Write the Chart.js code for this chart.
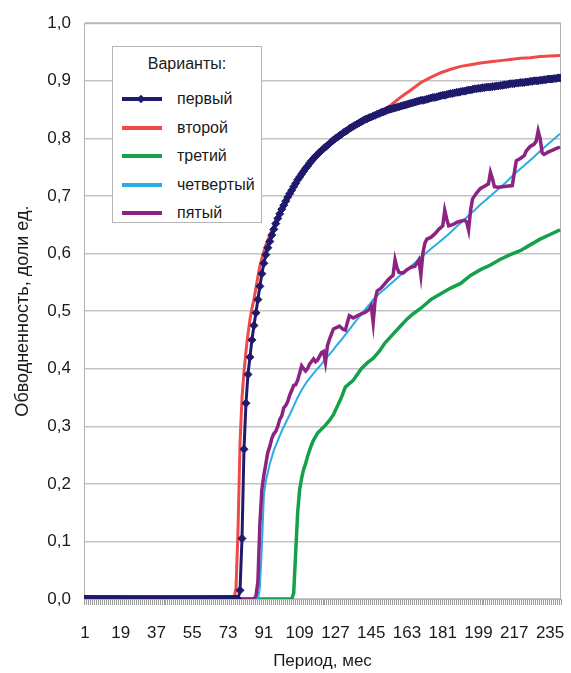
<!DOCTYPE html>
<html lang="ru">
<head>
<meta charset="utf-8">
<title>Обводненность по вариантам</title>
<script src="https://cdn.jsdelivr.net/npm/chart.js@4/dist/chart.umd.min.js"></script>
<style>
  html, body { margin: 0; padding: 0; background: #fff; }
  #wrap { position: relative; width: 571px; height: 673px; }
  #legend {
    position: absolute; left: 112px; top: 46px; width: 150px; height: 177px;
    box-sizing: border-box; border: 1px solid #b4b4b4; background: #fff;
    font-family: "Liberation Sans", Arial, sans-serif; font-size: 16px; color: #1a1a1a;
  }
  #legend .title { position: absolute; left: 0; width: 100%; top: 8px; text-align: center; }
  #legend .row { position: absolute; left: 0; width: 100%; height: 20px; line-height: 20px; }
  #legend .sample { position: absolute; left: 9px; top: 8px; width: 40px; height: 4px; }
  #legend .mark { position: absolute; left: 25px; top: 7px; width: 6px; height: 6px; transform: rotate(45deg); }
  #legend .label { position: absolute; left: 64px; top: 0; white-space: nowrap; }
</style>
</head>
<body>
<div id="wrap">
  <canvas id="chart" width="571" height="673"></canvas>
  <div id="legend"></div>
</div>
<script>
// months on the category axis and the labelled ticks
const months = Array.from({ length: 240 }, (_, i) => i + 1);
const tickMonths = [1, 19, 37, 55, 73, 91, 109, 127, 145, 163, 181, 199, 217, 235];
const seriesNames = ["первый", "второй", "третий", "четвертый", "пятый"];

// первый: a value for every month (drawn with markers)
const variant1 = [
  0, 0, 0, 0, 0, 0, 0, 0, 0, 0,
  0, 0, 0, 0, 0, 0, 0, 0, 0, 0,
  0, 0, 0, 0, 0, 0, 0, 0, 0, 0,
  0, 0, 0, 0, 0, 0, 0, 0, 0, 0,
  0, 0, 0, 0, 0, 0, 0, 0, 0, 0,
  0, 0, 0, 0, 0, 0, 0, 0, 0, 0,
  0, 0, 0, 0, 0, 0, 0, 0, 0, 0,
  0, 0, 0, 0, 0, 0, 0, 0, 0.015, 0.105,
  0.26, 0.34, 0.39, 0.42, 0.45, 0.475, 0.497, 0.52, 0.543, 0.565,
  0.583, 0.598, 0.61, 0.621, 0.632, 0.642, 0.652, 0.661, 0.669, 0.677,
  0.684, 0.691, 0.698, 0.704, 0.71, 0.716, 0.722, 0.728, 0.733, 0.738,
  0.743, 0.748, 0.752, 0.757, 0.761, 0.765, 0.769, 0.772, 0.776, 0.779,
  0.782, 0.785, 0.788, 0.791, 0.794, 0.797, 0.800, 0.802, 0.805, 0.807,
  0.810, 0.812, 0.814, 0.817, 0.819, 0.821, 0.823, 0.825, 0.827, 0.829,
  0.831, 0.833, 0.834, 0.836, 0.837, 0.839, 0.840, 0.842, 0.843, 0.845,
  0.846, 0.847, 0.849, 0.850, 0.851, 0.852, 0.853, 0.854, 0.855, 0.856,
  0.857, 0.858, 0.859, 0.860, 0.861, 0.862, 0.863, 0.864, 0.865, 0.866,
  0.866, 0.867, 0.868, 0.869, 0.870, 0.871, 0.871, 0.872, 0.873, 0.874,
  0.875, 0.875, 0.876, 0.877, 0.878, 0.878, 0.879, 0.880, 0.880, 0.881,
  0.882, 0.882, 0.883, 0.884, 0.884, 0.885, 0.886, 0.886, 0.887, 0.887,
  0.888, 0.888, 0.889, 0.889, 0.889, 0.890, 0.890, 0.891, 0.891, 0.892,
  0.892, 0.893, 0.893, 0.894, 0.895, 0.895, 0.895, 0.896, 0.896, 0.897,
  0.897, 0.897, 0.898, 0.898, 0.899, 0.899, 0.900, 0.900, 0.900, 0.901,
  0.901, 0.902, 0.902, 0.903, 0.903, 0.903, 0.904, 0.904, 0.905, 0.905
];

// the other variants as [month, value] pairs
const variant2 = [
  [1, 0], [76, 0], [77, 0.02], [78, 0.12], [79, 0.27], [80, 0.35], [81, 0.395], [82, 0.43],
  [83, 0.46], [84, 0.485], [85, 0.505], [86, 0.52], [87, 0.54], [88, 0.56], [89, 0.578],
  [90, 0.592], [92, 0.615], [94, 0.632], [96, 0.648], [98, 0.663], [100, 0.677], [102, 0.69],
  [104, 0.702], [106, 0.714], [108, 0.725], [110, 0.736], [113, 0.751], [116, 0.764],
  [120, 0.778], [125, 0.793], [130, 0.806], [135, 0.818], [140, 0.828], [145, 0.838],
  [150, 0.847], [155, 0.858], [160, 0.872], [165, 0.884], [170, 0.897], [175, 0.906],
  [180, 0.914], [185, 0.92], [190, 0.925], [195, 0.928], [200, 0.931], [205, 0.933],
  [210, 0.935], [215, 0.937], [220, 0.939], [225, 0.94], [230, 0.942], [235, 0.943], [240, 0.944]
];

const variant3 = [
  [1, 0], [105, 0], [106, 0.01], [107, 0.08], [108, 0.15], [109, 0.19], [110, 0.21],
  [111, 0.225], [112, 0.235], [113, 0.248], [114, 0.258], [115, 0.268], [116, 0.276],
  [118, 0.288], [120, 0.295], [122, 0.302], [124, 0.31], [126, 0.32], [128, 0.335],
  [130, 0.35], [132, 0.368], [134, 0.374], [136, 0.38], [138, 0.39], [140, 0.40],
  [143, 0.41], [146, 0.418], [149, 0.43], [152, 0.445], [156, 0.46], [160, 0.475],
  [163, 0.486], [166, 0.495], [170, 0.505], [175, 0.52], [180, 0.53], [185, 0.54],
  [190, 0.548], [195, 0.562], [200, 0.572], [205, 0.58], [210, 0.59], [215, 0.598],
  [220, 0.605], [225, 0.615], [230, 0.625], [235, 0.633], [240, 0.641]
];

const variant4 = [
  [1, 0], [88, 0], [89, 0.02], [90, 0.09], [91, 0.18], [92, 0.205], [94, 0.235], [96, 0.258],
  [98, 0.275], [100, 0.292], [102, 0.306], [104, 0.32], [106, 0.335], [108, 0.35],
  [110, 0.363], [112, 0.374], [114, 0.383], [116, 0.392], [118, 0.4], [120, 0.408],
  [122, 0.417], [124, 0.425], [126, 0.433], [128, 0.442], [130, 0.45], [132, 0.459],
  [134, 0.468], [136, 0.477], [138, 0.486], [140, 0.494], [142, 0.503], [144, 0.511],
  [146, 0.52], [149, 0.53], [152, 0.539], [155, 0.548], [158, 0.557], [161, 0.566],
  [164, 0.575], [167, 0.584], [170, 0.593], [173, 0.602], [176, 0.611], [179, 0.619],
  [182, 0.628], [185, 0.637], [188, 0.647], [191, 0.656], [194, 0.666], [197, 0.675],
  [200, 0.685], [203, 0.694], [206, 0.703], [209, 0.712], [212, 0.721], [215, 0.731],
  [218, 0.741], [221, 0.75], [224, 0.759], [227, 0.768], [230, 0.778], [233, 0.787],
  [236, 0.796], [240, 0.808]
];

const variant5 = [
  [1, 0], [86, 0], [87, 0.005], [88, 0.03], [89, 0.13], [90, 0.19], [91, 0.215], [92, 0.235],
  [93, 0.255], [94, 0.265], [95, 0.279], [96, 0.287], [97, 0.291], [98, 0.30], [99, 0.312],
  [100, 0.318], [101, 0.332], [102, 0.336], [103, 0.343], [104, 0.354], [105, 0.362],
  [106, 0.371], [107, 0.372], [108, 0.38], [109, 0.392], [110, 0.405], [111, 0.40],
  [112, 0.396], [113, 0.40], [114, 0.408], [116, 0.417], [117, 0.412], [118, 0.415],
  [120, 0.428], [121, 0.43], [122, 0.411], [123, 0.44], [124, 0.451], [126, 0.469],
  [128, 0.472], [129, 0.474], [131, 0.468], [132, 0.467], [133, 0.48], [134, 0.492],
  [136, 0.488], [138, 0.492], [140, 0.495], [142, 0.498], [144, 0.503], [145, 0.509],
  [146, 0.48], [147, 0.52], [148, 0.535], [150, 0.54], [152, 0.548], [154, 0.556],
  [156, 0.562], [157, 0.589], [158, 0.575], [159, 0.567], [161, 0.566], [163, 0.572],
  [165, 0.576], [167, 0.578], [169, 0.589], [170, 0.563], [171, 0.60], [172, 0.618],
  [173, 0.625], [175, 0.628], [177, 0.634], [179, 0.642], [181, 0.648], [182, 0.675],
  [183, 0.66], [184, 0.648], [186, 0.65], [188, 0.654], [190, 0.656], [192, 0.658],
  [193, 0.655], [194, 0.641], [195, 0.675], [196, 0.695], [198, 0.705], [200, 0.713],
  [202, 0.717], [204, 0.721], [205, 0.741], [206, 0.73], [207, 0.716], [209, 0.715],
  [211, 0.716], [213, 0.717], [216, 0.718], [217, 0.74], [218, 0.761], [220, 0.765],
  [222, 0.77], [223, 0.778], [225, 0.786], [227, 0.79], [228, 0.795], [229, 0.813],
  [230, 0.80], [231, 0.775], [232, 0.772], [234, 0.776], [236, 0.779], [238, 0.782],
  [240, 0.785]
];

const colors = ["#1f1a6b", "#ef4a4a", "#15a04a", "#2aace4", "#8c2383"];

const toPoints = pairs => pairs.map(([x, y]) => ({ x, y }));

// grey frame around the plot plus small tick marks under every month
const frame = {
  id: "frame",
  beforeDatasetsDraw(chart) {
    const { ctx, chartArea: a, scales: { x } } = chart;
    ctx.save();
    ctx.strokeStyle = "#b2b2b2";
    ctx.lineWidth = 1;
    ctx.strokeRect(a.left + 0.5, a.top + 0.5, a.right - a.left - 1, a.bottom - a.top);
    ctx.strokeStyle = "#9a9a9a";
    ctx.beginPath();
    for (let m = 0; m <= months.length; m++) {
      const px = Math.round(x.getPixelForValue(m + 0.5)) + 0.5;
      ctx.moveTo(px, a.bottom + 1);
      ctx.lineTo(px, a.bottom + 6);
    }
    ctx.stroke();
    ctx.restore();
  }
};

const font = "'Liberation Sans', Arial, sans-serif";

const chart = new Chart(document.getElementById("chart"), {
  type: "line",
  data: {
    datasets: [
      {
        label: seriesNames[0],
        data: variant1.map((v, i) => ({ x: months[i], y: v })),
        borderColor: colors[0], backgroundColor: colors[0],
        borderWidth: 3, pointStyle: "rectRot", pointRadius: 4, pointBorderWidth: 1,
        order: 0
      },
      {
        label: seriesNames[1], data: toPoints(variant2),
        borderColor: colors[1], borderWidth: 3, pointRadius: 0, order: 1
      },
      {
        label: seriesNames[2], data: toPoints(variant3),
        borderColor: colors[2], borderWidth: 3.5, pointRadius: 0, order: 4
      },
      {
        label: seriesNames[3], data: toPoints(variant4),
        borderColor: colors[3], borderWidth: 2, pointRadius: 0, order: 3
      },
      {
        label: seriesNames[4], data: toPoints(variant5),
        borderColor: colors[4], borderWidth: 3.5, pointRadius: 0, order: 2
      }
    ]
  },
  options: {
    responsive: false,
    animation: false,
    events: [],
    layout: { padding: { left: 0, top: 18, right: 10, bottom: 0 } },
    plugins: { legend: { display: false }, tooltip: { enabled: false } },
    scales: {
      x: {
        type: "linear",
        min: 0.5,
        max: months.length + 0.5,
        afterBuildTicks: scale => { scale.ticks = tickMonths.map(value => ({ value })); },
        afterFit: scale => {
          scale.height = 74;
          scale.paddingLeft = 0;
          scale.paddingRight = 0;
        },
        grid: { display: false },
        border: { color: "#a8a8a8" },
        ticks: {
          autoSkip: false, maxRotation: 0, padding: 16,
          color: "#1a1a1a", font: { family: font, size: 17 },
          callback: v => String(v)
        },
        title: {
          display: true, text: "Период, мес", color: "#1a1a1a",
          font: { family: font, size: 17 }, padding: { top: 0, bottom: 1 }
        }
      },
      y: {
        min: 0,
        max: 1,
        afterFit: scale => { scale.width = 84; },
        grid: { color: "#c4c4c4", lineWidth: 1.5, drawTicks: false },
        border: { color: "#a8a8a8" },
        ticks: {
          stepSize: 0.1, padding: 13, color: "#1a1a1a",
          font: { family: font, size: 17 },
          callback: v => v.toFixed(1).replace(".", ",")
        },
        title: {
          display: true, text: "Обводненность, доли ед.", color: "#1a1a1a",
          font: { family: font, size: 18 }, padding: { top: 12, bottom: 0 }
        }
      }
    }
  },
  plugins: [frame]
});

// legend box inside the plot, built from the datasets
const legend = document.getElementById("legend");
legend.innerHTML = '<div class="title">Варианты:</div>';
chart.data.datasets.forEach((ds, i) => {
  const row = document.createElement("div");
  row.className = "row";
  row.style.top = (42 + i * 28.5) + "px";
  let html = '<div class="sample" style="background:' + ds.borderColor + '"></div>';
  if (i === 0) {
    html += '<div class="mark" style="background:' + ds.borderColor + '"></div>';
  }
  html += '<div class="label">' + ds.label + '</div>';
  row.innerHTML = html;
  legend.appendChild(row);
});
</script>
</body>
</html>
